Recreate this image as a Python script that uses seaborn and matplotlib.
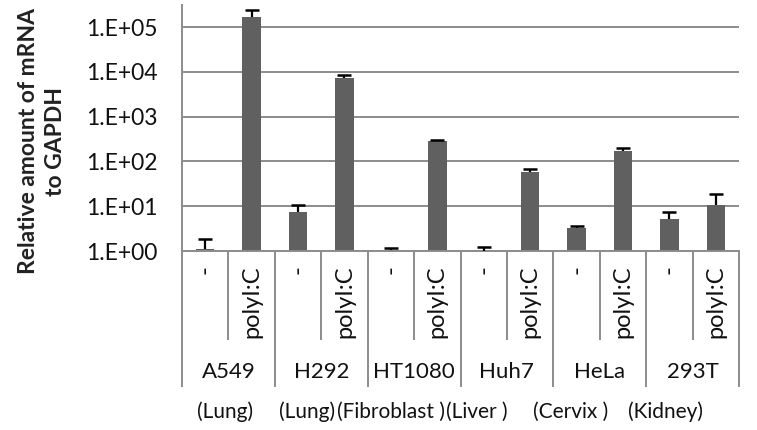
import numpy as np
import pandas as pd
import matplotlib
matplotlib.use("Agg")
import matplotlib.pyplot as plt
import seaborn as sns
from matplotlib.ticker import FixedLocator, FuncFormatter, NullLocator

# ---- data ----
cell_lines = ["A549", "H292", "HT1080", "Huh7", "HeLa", "293T"]
tissues = ["(Lung)", "(Lung)", "(Fibroblast )", "(Liver )", "(Cervix )", "(Kidney)"]
treatments = ["-", "polyI:C"]
values_ctrl = [1.1, 7.5, 1.05, 0.89, 3.2, 5.2]
values_polyic = [170000, 7400, 281, 57, 173, 10.6]
err_top_ctrl = [1.85, 10.6, 1.15, 1.2, 3.55, 7.3]
err_top_polyic = [240000, 8300, 296, 68, 200, 18.4]

# ---- build table ----
rows = []
for i, cl in enumerate(cell_lines):
    rows.append(dict(key=f"{cl}|-", cell=cl, treat=treatments[0], value=values_ctrl[i], top=err_top_ctrl[i]))
    rows.append(dict(key=f"{cl}|polyI:C", cell=cl, treat=treatments[1], value=values_polyic[i], top=err_top_polyic[i]))
df = pd.DataFrame(rows)

sns.set_style("white")
plt.rcParams["font.family"] = ["Lato", "DejaVu Sans"]

W, H = 757, 430
fig = plt.figure(figsize=(W / 100, H / 100), dpi=100)
ax_l, ax_r, ax_t, ax_b = 182, 739, 5, 251
ax = fig.add_axes([ax_l / W, 1 - ax_b / H, (ax_r - ax_l) / W, (ax_b - ax_t) / H])

bar_color = "#606060"
grid_color = "#8c8c8c"
text_color = "#111111"

sns.barplot(data=df, x="key", y="value", order=list(df["key"]), color=bar_color,
            width=0.4, ax=ax, errorbar=None, saturation=1, linewidth=0)
ax.set_yscale("log")
decade_px = (ax_b - 27) / 5.0
ax.set_ylim(1, 10 ** ((ax_b - ax_t) / decade_px))
ax.set_xlim(-0.5, len(df) - 0.5)

# one-sided error bars
xs = np.arange(len(df))
ax.vlines(xs, df["value"], df["top"], color="black", lw=1.6, zorder=4)
ax.plot(xs, df["top"], ls="none", marker="_", ms=10, mew=1.8, color="black", zorder=4)

# y axis
ax.yaxis.set_major_locator(FixedLocator([1, 10, 100, 1e3, 1e4, 1e5]))
ax.yaxis.set_minor_locator(NullLocator())
ax.yaxis.set_major_formatter(FuncFormatter(lambda v, p: f"1.E+{int(round(np.log10(v))):02d}"))
ax.tick_params(axis="y", length=6.5, width=1.3, color=grid_color, labelsize=16.5,
               labelcolor=text_color, pad=11)
ax.grid(axis="y", color=grid_color, lw=1.4)
ax.set_axisbelow(True)

for s in ["top", "right"]:
    ax.spines[s].set_visible(False)
for s in ["left", "bottom"]:
    ax.spines[s].set_color(grid_color)
    ax.spines[s].set_linewidth(1.4)

# x tick labels (treatments)
ax.set_xticks(xs)
ax.set_xticklabels(list(df["treat"]), rotation=90, fontsize=17, color=text_color, va="top")
ax.tick_params(axis="x", length=0, pad=10)
ax.set_xlabel("")
ax.set_ylabel("")

# table lines below axis
ax_h = ax_b - ax_t
tr = ax.get_xaxis_transform()
inner_y = -(340 - ax_b) / ax_h
group_y = -(387 - ax_b) / ax_h
inner_x = [2 * i + 0.5 for i in range(len(cell_lines))]
group_x = [2 * i - 0.5 for i in range(len(cell_lines) + 1)]
ax.vlines(inner_x, inner_y, 0, transform=tr, color=grid_color, lw=1.4, clip_on=False)
ax.vlines(group_x, group_y, 0, transform=tr, color=grid_color, lw=1.4, clip_on=False)

# cell line names
name_y = -(372 - ax_b) / ax_h
for i, cl in enumerate(cell_lines):
    ax.text(2 * i + 0.5, name_y, cl, transform=tr, ha="center", va="center",
            fontsize=16, color=text_color, clip_on=False)

# tissue labels (left edges as in the reference layout)
tissue_y = -(412 - ax_b) / ax_h
tissue_x = [-0.18, 1.58, 2.84, 5.19, 7.07, 9.11]
for tx, t in zip(tissue_x, tissues):
    ax.text(tx, tissue_y, t, transform=tr, ha="left", va="center",
            fontsize=15, color=text_color, clip_on=False)

# y label
fig.text(42 / W, 1 - 141 / H, "Relative amount of mRNA\nto GAPDH", rotation=90,
         ha="center", va="center", multialignment="center", fontsize=16.5,
         fontweight="bold", color="#222222", linespacing=1.35)

fig.savefig("out.png", dpi=100)
